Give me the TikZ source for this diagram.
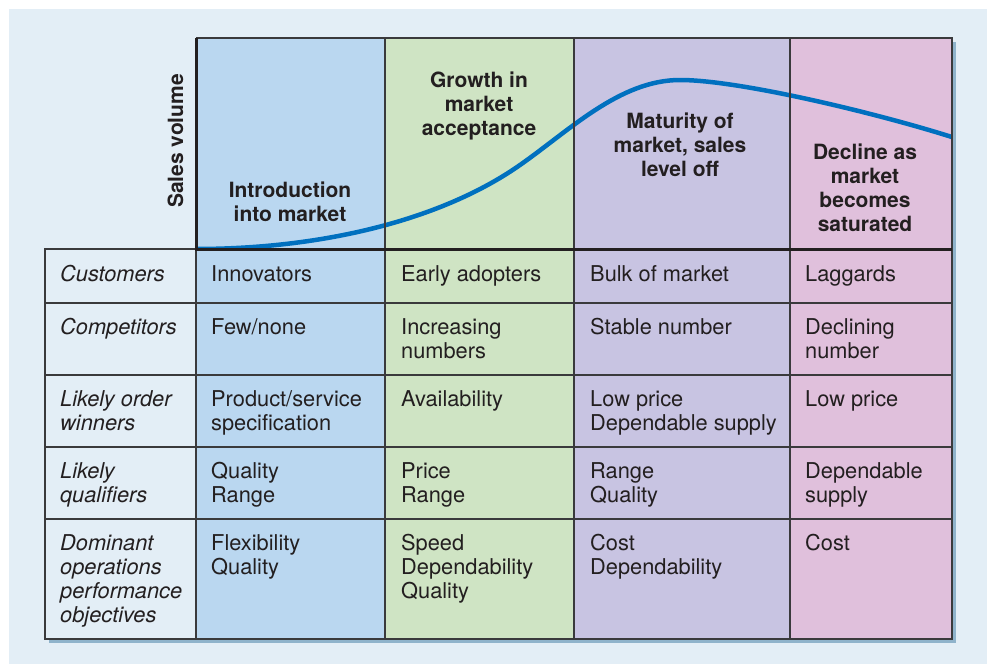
\documentclass[tikz,border=0pt]{standalone}
\usepackage{fontspec}
\setmainfont{TeX Gyre Heros}
\definecolor{bgc}{HTML}{E3EEF6}
\definecolor{shadowc}{HTML}{8FB3CB}
\definecolor{colA}{HTML}{BAD7F0}
\definecolor{colB}{HTML}{CFE4C4}
\definecolor{colC}{HTML}{C8C4E2}
\definecolor{colD}{HTML}{E0C0DC}
\definecolor{ink}{HTML}{231F20}
\definecolor{gridc}{HTML}{3A3A3C}
\definecolor{curvec}{HTML}{0070BF}
\newcommand{\cellfont}{\fontsize{21.8}{24}\selectfont}
\newcommand{\headfont}{\fontsize{21}{24}\selectfont\bfseries}
\tikzset{
  cell/.style={anchor=north west, inner sep=0pt, align=left, font=\cellfont, text=ink,
    execute at begin node={\rule{0pt}{16pt}}},
  rowhead/.style={cell, font=\cellfont\itshape},
  head/.style={anchor=north, inner sep=0pt, align=center, font=\headfont, text=ink,
    execute at begin node={\rule{0pt}{16pt}}},
  gridline/.style={draw=gridc, line width=1.4pt},
  axisline/.style={draw=ink, line width=3pt},
  salescurve/.style={draw=curvec, line width=4.5pt}
}
\begin{document}
\begin{tikzpicture}[x=1pt, y=-1pt]
\useasboundingbox (0,0) rectangle (987,664);
\fill[white] (0,0) rectangle (987,664);
\fill[bgc] (9,9) rectangle (987,664);
% shadow
\fill[shadowc] (200,42) rectangle (956,253);
\fill[shadowc] (49,253) rectangle (956,643);
% fills
\fill[bgc] (45,249) rectangle (196,639);
\fill[colA] (196,38) rectangle (385,639);
\fill[colB] (385,38) rectangle (574,639);
\fill[colC] (574,38) rectangle (790,639);
\fill[colD] (790,38) rectangle (952,639);
% curve
\coordinate (c0) at (196,249);
\coordinate (c1) at (520,165);
\coordinate (c2) at (680,80);
\coordinate (c3) at (955,138);
\begin{scope}
\clip (196,30) rectangle (952,249);
\draw[salescurve] (c0) .. controls (320,249) and (440,221) .. (c1)
  .. controls (570,130) and (620,80) .. (c2)
  .. controls (740,80) and (880,114) .. (c3);
\end{scope}
% grid
\draw[gridline] (196,38) -- (952,38) -- (952,639) -- (45,639) -- (45,249) -- (196,249);
\foreach \x in {385,574,790} \draw[gridline] (\x,38) -- (\x,639);
\draw[gridline] (196,249) -- (196,639);
\foreach \y in {303,375,447,519} \draw[gridline] (45,\y) -- (952,\y);
\draw[axisline] (196,38) -- (196,249) -- (952,249);
% axis label
\node[anchor=base, rotate=90, inner sep=0pt, font=\headfont, text=ink] (ylab) at (183,141) {Sales volume};
% stage headings
\node[head] (h1) at (290,182) {Introduction\\into market};
\node[head] (h2) at (479,72) {Growth in\\market\\acceptance};
\node[head] (h3) at (680,113) {Maturity of\\market, sales\\level off};
\node[head] (h4) at (865,144) {Decline as\\market\\becomes\\saturated};
% row 1
\node[rowhead] (r1c0) at (60,265) {Customers};
\node[cell] (r1c1) at (211,265) {Innovators};
\node[cell] (r1c2) at (401,265) {Early adopters};
\node[cell] (r1c3) at (590,265) {Bulk of market};
\node[cell] (r1c4) at (805,265) {Laggards};
% row 2
\node[rowhead] (r2c0) at (60,318) {Competitors};
\node[cell] (r2c1) at (211,318) {Few/none};
\node[cell] (r2c2) at (401,318) {Increasing\\numbers};
\node[cell] (r2c3) at (590,318) {Stable number};
\node[cell] (r2c4) at (805,318) {Declining\\number};
% row 3
\node[rowhead] (r3c0) at (60,390) {Likely order\\winners};
\node[cell] (r3c1) at (211,390) {Product/service\\specification};
\node[cell] (r3c2) at (401,390) {Availability};
\node[cell] (r3c3) at (590,390) {Low price\\Dependable supply};
\node[cell] (r3c4) at (805,390) {Low price};
% row 4
\node[rowhead] (r4c0) at (60,462) {Likely\\qualifiers};
\node[cell] (r4c1) at (211,462) {Quality\\Range};
\node[cell] (r4c2) at (401,462) {Price\\Range};
\node[cell] (r4c3) at (590,462) {Range\\Quality};
\node[cell] (r4c4) at (805,462) {Dependable\\supply};
% row 5
\node[rowhead] (r5c0) at (60,534) {Dominant\\operations\\performance\\objectives};
\node[cell] (r5c1) at (211,534) {Flexibility\\Quality};
\node[cell] (r5c2) at (401,534) {Speed\\Dependability\\Quality};
\node[cell] (r5c3) at (590,534) {Cost\\Dependability};
\node[cell] (r5c4) at (805,534) {Cost};
\end{tikzpicture}
\end{document}
